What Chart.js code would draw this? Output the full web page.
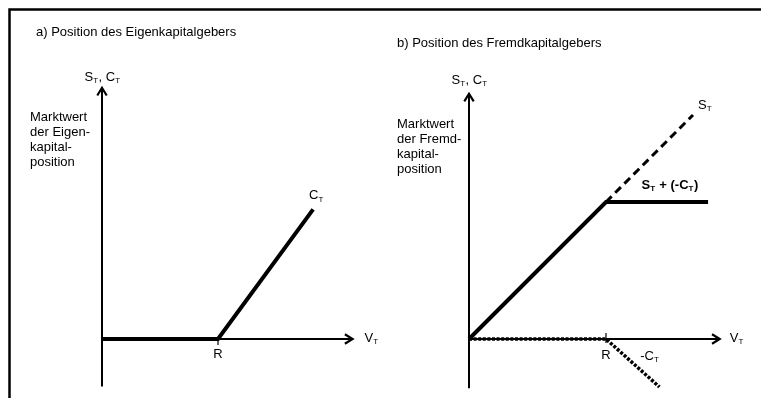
<!DOCTYPE html>
<html><head><meta charset="utf-8">
<script src="https://cdn.jsdelivr.net/npm/chart.js@4"></script>
<style>html,body{margin:0;padding:0;background:#fff}#wrap{position:relative;width:761px;height:398px}canvas{display:block}</style>
</head><body><div id="wrap"><canvas id="c" width="761" height="398"></canvas></div>
<script>
// ---- data (conceptual units, strike R = 1) ----
const R = 1;
// Panel a) Eigenkapitalgeber: long call C_T = max(V_T - R, 0)
const aCallV = [0, 1, 1.82];
const aCallC = [0, 0, 0.82];
const aAxisHV = [0, 2.16];
const aAxisVC = [-0.30, 1.59];
// Panel b) Fremdkapitalgeber: S_T + (-C_T)
const bDebtV = [0, 1, 1.745];
const bDebtY = [0, 1, 1];
const bStockV = [1, 1.635];
const bStockY = [1, 1.635];
const bShortCallV = [0, 1, 1.39];
const bShortCallY = [0, 0, -0.35];
const bAxisHV = [0, 1.83];
const bAxisVY = [-0.36, 1.79];

// ---- layout ----
const W = 761, H = 398;
const PA = {ox: 102, oy: 339, ux: 116, uy: 158};
const PB = {ox: 469, oy: 339, ux: 137, uy: 137};
const xr = p => ({min: -p.ox / p.ux, max: (W - p.ox) / p.ux});
const yr = p => ({min: -(H - p.oy) / p.uy, max: p.oy / p.uy});
const zip = (xs, ys) => xs.map((x, i) => ({x, y: ys[i]}));
const FONT = '"Liberation Sans", Arial, sans-serif';

function ds(data, xAxisID, yAxisID, width, extra) {
  return Object.assign({type: 'scatter', showLine: true, data, xAxisID, yAxisID,
    borderColor: '#000', backgroundColor: '#000', borderWidth: width,
    pointRadius: 0, pointHoverRadius: 0, tension: 0, borderCapStyle: 'butt', borderJoinStyle: 'miter'}, extra || {});
}

const datasets = [
  ds(zip([0, 0], aAxisVC), 'xa', 'ya', 2, {arrow: true}),
  ds(zip(aAxisHV, [0, 0]), 'xa', 'ya', 2, {arrow: true}),
  ds(zip([0, 0], bAxisVY), 'xb', 'yb', 2, {arrow: true}),
  ds(zip(bAxisHV, [0, 0]), 'xb', 'yb', 2, {arrow: true}),
  ds(zip(aCallV, aCallC), 'xa', 'ya', 4),
  ds(zip(bShortCallV, bShortCallY), 'xb', 'yb', 3.5, {borderDash: [3, 1.6]}),
  ds(zip(bStockV, bStockY), 'xb', 'yb', 3, {borderDash: [8, 5]}),
  ds(zip(bDebtV, bDebtY), 'xb', 'yb', 4)
];

function drawRich(ctx, parts, x, y, opts) {
  const size = opts.size || 13, bold = opts.bold ? 'bold ' : '';
  const mf = bold + size + 'px ' + FONT, sf = bold + Math.round(size * 0.62) + 'px ' + FONT;
  let w = 0;
  parts.forEach(([t, s]) => { ctx.font = s ? sf : mf; w += ctx.measureText(t).width; });
  let cx = opts.align === 'center' ? x - w / 2 : x;
  ctx.textBaseline = 'middle'; ctx.textAlign = 'left'; ctx.fillStyle = '#000';
  parts.forEach(([t, s]) => {
    ctx.font = s ? sf : mf;
    ctx.fillText(t, cx, s ? y + 4 : y);
    cx += ctx.measureText(t).width + (s ? 0.5 : 0);
  });
}

const diagramPlugin = {
  id: 'diagram',
  beforeDraw(chart) {
    const ctx = chart.ctx;
    ctx.save();
    ctx.fillStyle = '#fff'; ctx.fillRect(0, 0, W, H);
    ctx.strokeStyle = '#000'; ctx.lineWidth = 2.5;
    ctx.beginPath(); ctx.moveTo(9.5, H); ctx.lineTo(9.5, 9.5); ctx.lineTo(W, 9.5); ctx.stroke();
    ctx.restore();
  },
  afterDatasetsDraw(chart) {
    const ctx = chart.ctx;
    ctx.save();
    ctx.strokeStyle = '#000'; ctx.lineWidth = 2.2; ctx.lineCap = 'butt'; ctx.lineJoin = 'miter';
    chart.data.datasets.forEach((d, i) => {
      if (!d.arrow) return;
      const pts = chart.getDatasetMeta(i).data;
      const p1 = pts[pts.length - 2], p2 = pts[pts.length - 1];
      const ang = Math.atan2(p2.y - p1.y, p2.x - p1.x), L = 9, sp = 0.55;
      ctx.beginPath();
      ctx.moveTo(p2.x - L * Math.cos(ang - sp), p2.y - L * Math.sin(ang - sp));
      ctx.lineTo(p2.x, p2.y);
      ctx.lineTo(p2.x - L * Math.cos(ang + sp), p2.y - L * Math.sin(ang + sp));
      ctx.stroke();
    });
    // R tick marks
    const s = chart.scales;
    ctx.lineWidth = 1.2;
    [['xa', 'ya', -2, 6], ['xb', 'yb', -6, 4]].forEach(([xk, yk, up, dn]) => {
      const x = s[xk].getPixelForValue(R), y = s[yk].getPixelForValue(0);
      ctx.beginPath(); ctx.moveTo(x, y + up); ctx.lineTo(x, y + dn); ctx.stroke();
    });
    ctx.restore();
  },
  afterDraw(chart) {
    const ctx = chart.ctx, s = chart.scales;
    const px = (xk, v) => s[xk].getPixelForValue(v), py = (yk, v) => s[yk].getPixelForValue(v);
    ctx.save();
    // titles
    drawRich(ctx, [['a) Position des Eigenkapitalgebers', 0]], 36, 32, {});
    drawRich(ctx, [['b) Position des Fremdkapitalgebers', 0]], 397, 43, {});
    // y-axis captions
    drawRich(ctx, [['S', 0], ['T', 1], [', C', 0], ['T', 1]], px('xa', 0), 77, {align: 'center'});
    drawRich(ctx, [['S', 0], ['T', 1], [', C', 0], ['T', 1]], px('xb', 0), 80, {align: 'center'});
    ['Marktwert', 'der Eigen-', 'kapital-', 'position'].forEach((t, i) => drawRich(ctx, [[t, 0]], 30, 117 + i * 15.2, {}));
    ['Marktwert', 'der Fremd-', 'kapital-', 'position'].forEach((t, i) => drawRich(ctx, [[t, 0]], 397, 124 + i * 15.2, {}));
    // x-axis captions
    drawRich(ctx, [['V', 0], ['T', 1]], px('xa', aAxisHV[1]) + 12, py('ya', 0) - 1, {});
    drawRich(ctx, [['V', 0], ['T', 1]], px('xb', bAxisHV[1]) + 10, py('yb', 0) - 1, {});
    drawRich(ctx, [['R', 0]], px('xa', R), py('ya', 0) + 15, {align: 'center'});
    drawRich(ctx, [['R', 0]], px('xb', R), py('yb', 0) + 16, {align: 'center'});
    // series labels
    drawRich(ctx, [['C', 0], ['T', 1]], px('xa', aCallV[2]) - 4, py('ya', aCallC[2]) - 14, {});
    drawRich(ctx, [['S', 0], ['T', 1]], px('xb', bStockV[1]) + 5, py('yb', bStockY[1]) - 10, {});
    drawRich(ctx, [['S', 0], ['T', 1], [' + (-C', 0], ['T', 1], [')', 0]], px('xb', 1.26), py('yb', 1) - 17, {bold: true});
    drawRich(ctx, [['-C', 0], ['T', 1]], px('xb', 1.25), py('yb', 0) + 17, {});
    ctx.restore();
  }
};

new Chart(document.getElementById('c'), {
  data: {datasets},
  options: {
    responsive: false, animation: false, devicePixelRatio: 1,
    layout: {padding: 0},
    plugins: {legend: {display: false}, tooltip: {enabled: false}},
    events: [],
    scales: {
      xa: Object.assign({type: 'linear', display: false, bounds: 'data', grace: 0}, xr(PA)),
      ya: Object.assign({type: 'linear', display: false, bounds: 'data', grace: 0}, yr(PA)),
      xb: Object.assign({type: 'linear', display: false, bounds: 'data', grace: 0}, xr(PB)),
      yb: Object.assign({type: 'linear', display: false, bounds: 'data', grace: 0}, yr(PB))
    }
  },
  plugins: [diagramPlugin]
});
</script></body></html>
